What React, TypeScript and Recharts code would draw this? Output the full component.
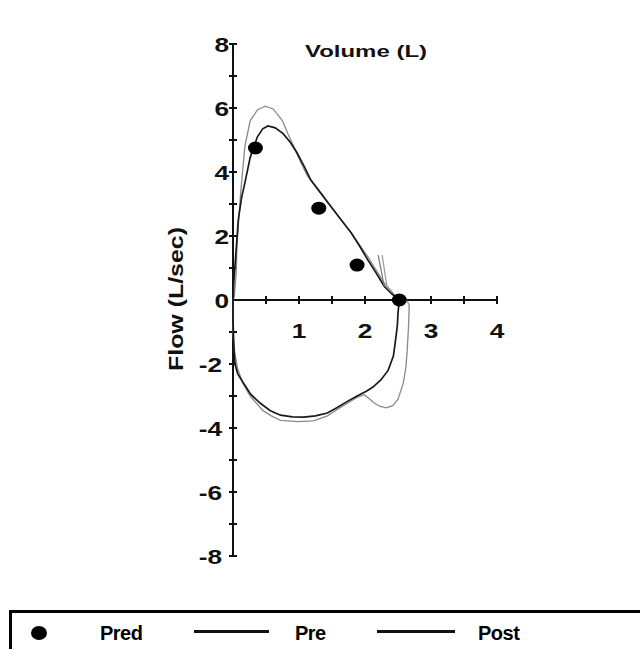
import { Scatter, ScatterChart, XAxis, YAxis } from 'recharts';

const predVolume = [0.34, 1.3, 1.88, 2.52];
const predFlow = [4.75, 2.87, 1.09, 0];

const preVolume = [
  0, 0.01, 0.03, 0.08, 0.13, 0.18, 0.26, 0.37, 0.45, 0.53, 0.64, 0.76, 0.87, 0.97, 1.08, 1.18, 1.33, 1.48, 1.64, 1.79, 1.92,
  2.04, 2.17, 2.29, 2.41, 2.52, 2.5, 2.49, 2.46, 2.43, 2.35, 2.24, 2.12, 2.02, 1.88, 1.74, 1.58, 1.43, 1.25, 1.07, 0.9, 0.72,
  0.56, 0.41, 0.27, 0.16, 0.07, 0.03, 0.01, 0, 0
];
const preFlow = [
  0, 0.5, 1.06, 2.5, 3.2, 3.66, 4.45, 5.1, 5.35, 5.44, 5.38, 5.2, 4.92, 4.6, 4.17, 3.75, 3.34, 2.93, 2.5, 2.1, 1.68, 1.26,
  0.84, 0.43, 0.18, 0, -0.4, -0.8, -1.3, -1.75, -2.2, -2.5, -2.72, -2.85, -3.0, -3.16, -3.36, -3.53, -3.62, -3.66, -3.65,
  -3.6, -3.45, -3.22, -2.95, -2.6, -2.3, -2.0, -1.3, -0.6, 0
];

const postVolume = [
  0, 0.02, 0.05, 0.06, 0.09, 0.12, 0.18, 0.26, 0.37, 0.49, 0.61, 0.75, 0.83, 0.92, 1.02, 1.13, 1.33, 1.53, 1.79, 2.04, 2.29,
  2.45, 2.55, 2.63, 2.67, 2.66, 2.64, 2.62, 2.58, 2.5, 2.42, 2.32, 2.22, 2.14, 2.06, 1.99, 1.87, 1.74, 1.58, 1.43, 1.22, 0.98,
  0.72, 0.58, 0.45, 0.26, 0.15, 0.07, 0.02, 0, 0
];
const postFlow = [
  0, 0.1, 0.9, 1.7, 2.6, 3.44, 4.8, 5.6, 5.94, 6.06, 5.97, 5.6, 5.2, 4.8, 4.33, 3.87, 3.34, 2.8, 2.1, 1.36, 0.53, 0.15, 0.02,
  0, -0.15, -0.8, -1.55, -2.1, -2.6, -3.1, -3.3, -3.37, -3.32, -3.22, -3.08, -2.96, -3.05, -3.22, -3.42, -3.62, -3.78, -3.8,
  -3.76, -3.62, -3.45, -3.0, -2.6, -2.15, -1.6, -1.0, 0
];

// small cursor strokes near end of expiration
const markVolume = [2.2, 2.29];
const markFlow = [1.4, 0.45];
const mark2Volume = [2.26, 2.33];

const yTicks = [-8, -6, -4, -2, 0, 2, 4, 6, 8];
const yMinorTicks = [-8, -7, -6, -5, -4, -3, -2, -1, 1, 2, 3, 4, 5, 6, 7, 8];
const xMinorTicks = [0.5, 1, 1.5, 2, 2.5, 3, 3.5, 4];
const xLabels = [1, 2, 3, 4];

const pts = (xs: number[], ys: number[]) => xs.map((x, i) => ({ x, y: ys[i] }));

const pred = pts(predVolume, predFlow);
const pre = pts(preVolume, preFlow);
const post = pts(postVolume, postFlow);
const mark1 = pts(markVolume, markFlow);
const mark2 = pts(mark2Volume, markFlow);
const xAxisLine = pts([0, 4], [0, 0]);
const xTickData = xMinorTicks.map((x) => ({ x, y: 0 }));
const yTickData = yMinorTicks.map((y) => ({ x: 0, y }));
const xLabelData = xLabels.map((x) => ({ x, y: 0 }));

const font = '"Liberation Sans", Arial, sans-serif';
const none = () => <g />;

function YTick({ x, y, payload }: any) {
  const v = payload.value;
  const right = v < 0 ? x - 11 : x - 4;
  return (
    <g transform={`translate(${right},${y + 8}) scale(1.25,1)`}>
      <text x={0} y={0} textAnchor="end" fontFamily={font} fontWeight="bold" fontSize={21} fill="#111">
        {v}
      </text>
    </g>
  );
}

function AxisTitles({ viewBox }: any) {
  const { x, y, width, height } = viewBox;
  return (
    <g fontFamily={font} fontWeight="bold" fill="#111">
      <text
        transform={`translate(${x - 18},${y + height / 2 - 1}) rotate(-90)`}
        textAnchor="middle"
        dominantBaseline="central"
        fontSize={21}
        textLength={144}
        lengthAdjust="spacingAndGlyphs"
      >
        Flow (L/sec)
      </text>
      <text x={x + width + 72} y={y + 13} fontSize={17} textLength={122} lengthAdjust="spacingAndGlyphs">
        Volume (L)
      </text>
    </g>
  );
}

export default function App() {
  return (
    <div style={{ position: 'absolute', left: 0, top: 0, width: 640, height: 649, background: '#fff', overflow: 'hidden' }}>
      <ScatterChart width={640} height={600} margin={{ top: 44, right: 143, bottom: 44, left: 193 }}>
        <XAxis type="number" dataKey="x" domain={[0, 4]} hide />
        <YAxis
          type="number"
          dataKey="y"
          domain={[-8, 8]}
          ticks={yTicks}
          interval={0}
          width={40}
          tickSize={0}
          tickMargin={0}
          tickLine={false}
          axisLine={{ stroke: '#111', strokeWidth: 2 }}
          tick={<YTick />}
          label={{ content: <AxisTitles /> }}
        />
        <Scatter data={xAxisLine} line={{ stroke: '#111', strokeWidth: 2 }} shape={none} isAnimationActive={false} />
        <Scatter
          data={xTickData}
          shape={({ cx, cy }: any) => <line x1={cx} x2={cx} y1={cy - 4} y2={cy + 4} stroke="#111" strokeWidth={2} />}
          isAnimationActive={false}
        />
        <Scatter
          data={yTickData}
          shape={({ cx, cy }: any) => <line x1={cx - 4} x2={cx + 4} y1={cy} y2={cy} stroke="#111" strokeWidth={2} />}
          isAnimationActive={false}
        />
        <Scatter
          data={xLabelData}
          shape={({ cx, cy, payload }: any) => (
            <g transform={`translate(${cx},${cy + 38}) scale(1.25,1)`}>
              <text x={0} y={0} textAnchor="middle" fontFamily={font} fontWeight="bold" fontSize={21} fill="#111">
                {payload.x}
              </text>
            </g>
          )}
          isAnimationActive={false}
        />
        <Scatter data={post} line={{ stroke: '#8a8a8a', strokeWidth: 1.3 }} shape={none} isAnimationActive={false} />
        <Scatter data={pre} line={{ stroke: '#1a1a1a', strokeWidth: 1.7 }} shape={none} isAnimationActive={false} />
        <Scatter data={mark1} line={{ stroke: '#777', strokeWidth: 1.2 }} shape={none} isAnimationActive={false} />
        <Scatter data={mark2} line={{ stroke: '#999', strokeWidth: 1.2 }} shape={none} isAnimationActive={false} />
        <Scatter
          data={pred}
          shape={({ cx, cy }: any) => <ellipse cx={cx} cy={cy} rx={7.5} ry={6.5} fill="#000" />}
          isAnimationActive={false}
        />
      </ScatterChart>
      <div
        style={{
          position: 'absolute',
          left: 9,
          top: 610,
          width: 700,
          height: 60,
          border: '3px solid #000',
          boxSizing: 'border-box',
          fontFamily: font,
          fontWeight: 'bold',
          fontSize: 20,
          color: '#000'
        }}
      >
        <span style={{ position: 'absolute', left: 19, top: 13, width: 16, height: 14, borderRadius: '50%', background: '#000' }} />
        <span style={{ position: 'absolute', left: 88, top: 9, letterSpacing: -0.5 }}>Pred</span>
        <span style={{ position: 'absolute', left: 182, top: 17, width: 75, height: 3, background: '#111' }} />
        <span style={{ position: 'absolute', left: 283, top: 9, letterSpacing: -0.5 }}>Pre</span>
        <span style={{ position: 'absolute', left: 365, top: 17, width: 78, height: 3, background: '#111' }} />
        <span style={{ position: 'absolute', left: 466, top: 9, letterSpacing: -0.5 }}>Post</span>
      </div>
    </div>
  );
}
